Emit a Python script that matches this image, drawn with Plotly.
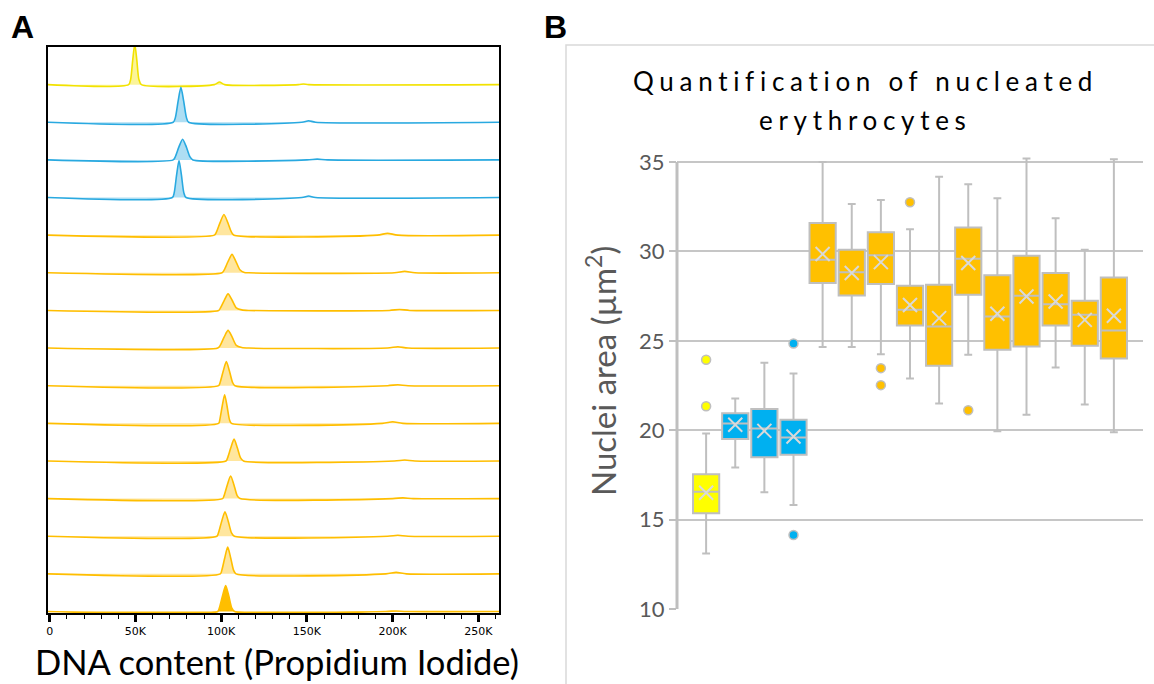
import plotly.graph_objects as go

W, H = 1154, 684

# ---------------- data ----------------
SAMPLES = [f"S{i}" for i in range(1, 16)]
GROUPS = ["yellow", "blue", "blue", "blue"] + ["orange"] * 11

# Panel A: DNA content histograms (x in thousands, height in row units)
DNA_X = [
    [-1, 46.0, 47.2, 48.4, 49.6, 50.8, 52.0, 53.5, 96, 99, 102, 145, 148, 151, 262],
    [-1, 72.0, 73.3, 74.9, 76.5, 78.1, 79.7, 81.0, 147, 151, 155, 262],
    [-1, 72.0, 73.2, 75.3, 77.5, 79.7, 81.8, 83.5, 150, 156, 162, 262],
    [-1, 71.5, 72.6, 74.0, 75.4, 76.8, 78.2, 79.5, 147, 151, 155, 262],
    [-1, 96.0, 97.2, 99.4, 101.6, 103.8, 106.0, 107.5, 191, 197, 203, 262],
    [-1, 100.5, 101.7, 104.0, 106.3, 108.6, 110.9, 113.5, 116, 201, 207, 213, 262],
    [-1, 98.5, 99.5, 101.8, 104.0, 106.4, 108.8, 112.0, 116, 198, 204, 210, 262],
    [-1, 98.0, 99.3, 101.7, 104.0, 106.4, 108.8, 112.0, 116, 197, 203, 209, 262],
    [-1, 98.5, 99.4, 101.2, 103.0, 104.8, 106.6, 108.0, 197, 203, 209, 262],
    [-1, 98.5, 99.2, 100.6, 102.0, 103.4, 104.8, 106.0, 194, 200, 206, 262],
    [-1, 102.8, 103.7, 105.6, 107.5, 109.4, 111.3, 113.0, 201, 207, 213, 262],
    [-1, 100.8, 101.7, 103.6, 105.5, 107.4, 109.3, 111.0, 200, 206, 212, 262],
    [-1, 97.5, 98.4, 100.3, 102.2, 104.1, 106.0, 107.7, 197, 203, 209, 262],
    [-1, 99.5, 100.4, 102.1, 103.8, 105.5, 107.2, 108.6, 196, 202, 208, 262],
    [-1, 98.0, 98.9, 100.8, 102.6, 104.4, 106.2, 107.8, 196, 202, 208, 262],
]
DNA_H = [
    [0, 0, 0.14, 0.65, 1.08, 0.65, 0.14, 0, 0, 0.07, 0, 0, 0.015, 0, 0],
    [0, 0, 0.13, 0.57, 0.93, 0.57, 0.13, 0, 0, 0.04, 0, 0],
    [0, 0, 0.08, 0.34, 0.55, 0.34, 0.08, 0, 0, 0.02, 0, 0],
    [0, 0, 0.13, 0.60, 0.98, 0.60, 0.13, 0, 0, 0.04, 0, 0],
    [0, 0, 0.08, 0.34, 0.55, 0.34, 0.08, 0, 0, 0.05, 0, 0],
    [0, 0, 0.07, 0.30, 0.49, 0.30, 0.08, 0.01, 0, 0, 0.04, 0, 0],
    [0, 0, 0.06, 0.27, 0.44, 0.27, 0.07, 0.015, 0, 0, 0.025, 0, 0],
    [0, 0, 0.06, 0.29, 0.47, 0.29, 0.07, 0.015, 0, 0, 0.035, 0, 0],
    [0, 0, 0.09, 0.39, 0.64, 0.39, 0.09, 0, 0, 0.025, 0, 0],
    [0, 0, 0.10, 0.46, 0.76, 0.46, 0.10, 0, 0, 0.04, 0, 0],
    [0, 0, 0.08, 0.35, 0.58, 0.35, 0.08, 0, 0, 0.025, 0, 0],
    [0, 0, 0.08, 0.37, 0.60, 0.37, 0.08, 0, 0, 0.02, 0, 0],
    [0, 0, 0.09, 0.40, 0.65, 0.40, 0.09, 0, 0, 0.025, 0, 0],
    [0, 0, 0.10, 0.43, 0.71, 0.43, 0.10, 0, 0, 0.04, 0, 0],
    [0, 0, 0.09, 0.42, 0.69, 0.42, 0.09, 0, 0, 0.015, 0, 0],
]
DNA_TICKVALS = [0, 50, 100, 150, 200, 250]
DNA_TICKTEXT = ["0", "50K", "100K", "150K", "200K", "250K"]

# Panel B: nuclei area box statistics (µm²)
Q1 = [15.35, 19.51, 18.49, 18.62, 28.23, 27.54, 28.17, 25.86, 23.60, 27.57, 24.50, 24.68, 25.86, 24.72, 24.01]
MEDIAN = [16.56, 20.37, 20.09, 19.59, 29.53, 28.84, 29.78, 26.74, 25.80, 29.59, 26.36, 27.52, 27.05, 26.45, 25.58]
Q3 = [17.54, 20.95, 21.18, 20.58, 31.59, 30.09, 31.07, 28.08, 28.13, 31.33, 28.66, 29.76, 28.79, 27.24, 28.54]
LOWER = [13.10, 17.91, 16.53, 15.82, 24.66, 24.66, 24.25, 22.89, 21.49, 24.22, 19.94, 20.86, 23.50, 21.44, 19.89]
UPPER = [19.81, 21.77, 23.77, 23.17, 35.00, 32.65, 32.87, 31.24, 34.18, 33.75, 32.97, 35.20, 31.85, 30.09, 35.15]
MEAN = [16.50, 20.30, 19.96, 19.65, 29.85, 28.79, 29.40, 27.00, 26.27, 29.35, 26.51, 27.48, 27.20, 26.17, 26.40]
OUTLIER_SAMPLE = ["S1", "S1", "S4", "S4", "S7", "S7", "S8", "S10"]
OUTLIER_VALUE = [23.94, 21.34, 24.85, 14.14, 23.47, 22.52, 32.75, 21.12]
B_TICKS = [10, 15, 20, 25, 30, 35]

# ---------------- styles ----------------
LINE_COL = {"yellow": "#F2E200", "blue": "#29A9E0", "orange": "#FFBE00"}
FILL_COL = {"yellow": "rgba(245,228,0,0.40)", "blue": "rgba(41,169,224,0.38)",
            "orange": "rgba(255,190,0,0.38)"}
BOX_COL = {"yellow": "#FFFF00", "blue": "#00B0F0", "orange": "#FFC000"}
GRID = "#C6C6C6"
TXT_GRAY = "#595959"

fig = go.Figure()

# ---------- Panel A ----------
n = len(SAMPLES)
for i in range(n):
    g = GROUPS[i]
    base = n - 1 - i
    fill = FILL_COL[g] if i < n - 1 else LINE_COL[g]
    fig.add_trace(go.Scatter(
        x=DNA_X[i], y=[base + h for h in DNA_H[i]],
        mode="lines", line=dict(color=LINE_COL[g], width=1.6, shape="spline", smoothing=0.7),
        fill="toself", fillcolor=fill, xaxis="x", yaxis="y",
        hoverinfo="skip", showlegend=False))

# ---------- Panel B ----------
for g in ["yellow", "blue", "orange"]:
    idx = [i for i in range(n) if GROUPS[i] == g]
    fig.add_trace(go.Box(
        x=[SAMPLES[i] for i in idx],
        q1=[Q1[i] for i in idx], median=[MEDIAN[i] for i in idx], q3=[Q3[i] for i in idx],
        lowerfence=[LOWER[i] for i in idx], upperfence=[UPPER[i] for i in idx],
        fillcolor=BOX_COL[g], line=dict(color="#BFBFBF", width=2),
        width=0.9, whiskerwidth=0.3, boxpoints=False,
        xaxis="x2", yaxis="y2", hoverinfo="skip", showlegend=False))

fig.add_trace(go.Scatter(
    x=SAMPLES, y=MEAN, mode="markers",
    marker=dict(symbol="x-thin", size=14, line=dict(color="#D9D9D9", width=2)),
    xaxis="x2", yaxis="y2", hoverinfo="skip", showlegend=False))

samp_group = dict(zip(SAMPLES, GROUPS))
fig.add_trace(go.Scatter(
    x=OUTLIER_SAMPLE, y=OUTLIER_VALUE, mode="markers",
    marker=dict(symbol="circle", size=9,
                color=[BOX_COL[samp_group[s]] for s in OUTLIER_SAMPLE],
                line=dict(color="#BFBFBF", width=1.5)),
    xaxis="x2", yaxis="y2", hoverinfo="skip", showlegend=False))

# ---------- layout ----------
def fx(p):
    return p / W


def fy(p):
    return 1 - p / H


ytop_b = 35.6
fig.update_layout(
    width=W, height=H, autosize=False,
    margin=dict(l=0, r=0, t=0, b=0, pad=0, autoexpand=False),
    paper_bgcolor="white", plot_bgcolor="white",
    boxmode="overlay", showlegend=False,
    xaxis=dict(domain=[fx(48), fx(499)], range=[-1, 262], automargin=False,
               showline=True, mirror=True, linecolor="black", linewidth=1.5,
               ticks="outside", ticklen=7, tickwidth=2.5, tickcolor="black",
               tickvals=DNA_TICKVALS, ticktext=DNA_TICKTEXT,
               tickfont=dict(family="DejaVu Sans", size=11, color="black"),
               minor=dict(ticks="outside", dtick=10, tick0=0, ticklen=4, tickwidth=1,
                          tickcolor="black", showgrid=False),
               showgrid=False, zeroline=False, anchor="y"),
    yaxis=dict(domain=[fy(613), fy(47)], range=[-0.04, 15], automargin=False,
               showline=True, mirror=True, linecolor="black", linewidth=1.5,
               showticklabels=False, ticks="", showgrid=False, zeroline=False, anchor="x"),
    xaxis2=dict(domain=[fx(677), fx(1143)], type="category", categoryorder="array",
                categoryarray=SAMPLES, range=[-1, 15], automargin=False,
                showticklabels=False, ticks="", showgrid=False, zeroline=False,
                showline=False, anchor="y2"),
    yaxis2=dict(domain=[fy(609), fy(162 - (ytop_b - 35) * 447 / 25)], range=[10, ytop_b],
                automargin=False,
                tickvals=B_TICKS, showgrid=True, gridcolor=GRID, gridwidth=1.5,
                ticks="outside", ticklen=7, tickwidth=2, tickcolor="#BFBFBF",
                tickfont=dict(family="Lato", size=22, color=TXT_GRAY),
                showline=False, zeroline=False, anchor="x2"),
    shapes=[
        dict(type="rect", xref="paper", yref="paper", x0=fx(566), x1=1.02, y0=-0.02, y1=fy(45),
             line=dict(color="#D9D9D9", width=1.5), fillcolor="rgba(0,0,0,0)", layer="below"),
        dict(type="line", xref="x2 domain", yref="y2", x0=0, x1=0, y0=10, y1=35,
             line=dict(color="#BFBFBF", width=3)),
    ],
    annotations=[
        dict(text="<b>A</b>", x=fx(22), y=fy(27), xref="paper", yref="paper",
             showarrow=False, xanchor="center", yanchor="middle",
             font=dict(family="Liberation Sans", size=32, color="black")),
        dict(text="<b>B</b>", x=fx(555), y=fy(27), xref="paper", yref="paper",
             showarrow=False, xanchor="center", yanchor="middle",
             font=dict(family="Liberation Sans", size=32, color="black")),
        dict(text="DNA content (Propidium Iodide)", x=fx(277), y=fy(661),
             xref="paper", yref="paper", showarrow=False, xanchor="center", yanchor="middle",
             font=dict(family="Lato", size=34.5, color="black")),
        dict(text='<span style="letter-spacing:5.7px">Quantification of nucleated</span>',
             x=fx(865), y=fy(81), xref="paper", yref="paper", showarrow=False,
             xanchor="center", yanchor="middle",
             font=dict(family="Lato", size=26, color="black")),
        dict(text='<span style="letter-spacing:5.7px">erythrocytes</span>',
             x=fx(865), y=fy(120), xref="paper", yref="paper", showarrow=False,
             xanchor="center", yanchor="middle",
             font=dict(family="Lato", size=26, color="black")),
        dict(text="Nuclei area (µm<sup>2</sup>)", x=fx(601), y=fy(371),
             xref="paper", yref="paper", showarrow=False, textangle=-90,
             xanchor="center", yanchor="middle",
             font=dict(family="Lato", size=33, color=TXT_GRAY)),
    ],
)

fig.write_html("out.html")
